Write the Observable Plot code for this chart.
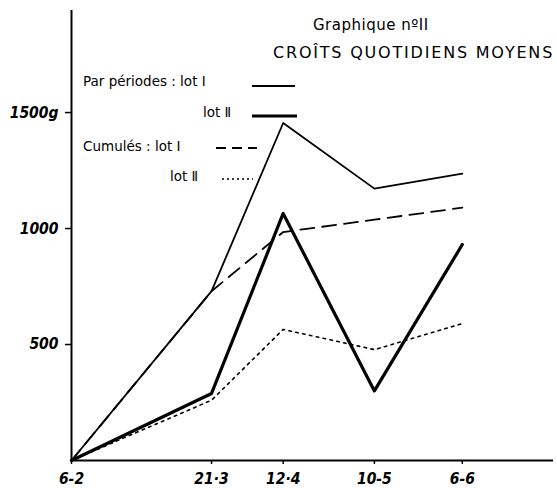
<!DOCTYPE html>
<html>
<head>
<meta charset="utf-8">
<script src="https://cdn.jsdelivr.net/npm/d3@7"></script>
<script src="https://cdn.jsdelivr.net/npm/@observablehq/plot@0.6"></script>
<style>
  html, body { margin: 0; padding: 0; background: #fff; }
  #wrap { position: relative; width: 557px; height: 488px; overflow: hidden; }
  #wrap svg.plot { position: absolute; left: 0; top: 0; }
  #wrap svg.plot text { font-family: "DejaVu Sans Condensed", "DejaVu Sans", sans-serif;
         font-stretch: condensed; font-style: italic; font-weight: bold; }
  .lbl { position: absolute; transform: translateY(-50%); white-space: nowrap;
         font-family: "DejaVu Sans", sans-serif; color: #000; line-height: 1; }
  .sample { position: absolute; }
</style>
</head>
<body>
<div id="wrap"></div>
<script>
// ---- data ----
const dates = ["1962-02-06", "1962-03-21", "1962-04-12", "1962-05-10", "1962-06-06"];
const dateLabels = ["6-2", "21·3", "12·4", "10-5", "6-6"];
const periodLotI  = [0, 730, 1455, 1172, 1237];
const periodLotII = [0, 289, 1065, 300, 931];
const cumulLotI   = [0, 730, 985, 1038, 1090];
const cumulLotII  = [0, 260, 565, 478, 590];
const yTicks = [500, 1000, 1500];
const yTickLabels = ["500", "1000", "1500g"];
const titleLine1 = "Graphique nºII";
const titleLine2 = "CROÎTS  QUOTIDIENS MOYENS";
const legendLabels = ["Par périodes : lot Ⅰ", "lot Ⅱ", "Cumulés : lot Ⅰ", "lot Ⅱ"];

const parse = d3.utcParse("%Y-%m-%d");
const xDates = dates.map(parse);
const xEnd = parse("1962-07-04");

function series(values) {
  return values.map((v, i) => ({date: xDates[i], value: v}));
}

const chart = Plot.plot({
  width: 557,
  height: 488,
  marginLeft: 71,
  marginRight: 4,
  marginTop: 10,
  marginBottom: 28,
  style: {
    fontSize: "15.5px",
    background: "#fff",
    color: "#000"
  },
  x: {type: "utc", domain: [xDates[0], xEnd]},
  y: {domain: [0, 1940]},
  marks: [
    Plot.axisY(yTicks, {
      tickSize: 6, tickPadding: 7, strokeWidth: 1.5,
      fontStyle: "italic", fontWeight: "bold",
      tickFormat: d => yTickLabels[yTicks.indexOf(d)],
      label: null
    }),
    Plot.axisX(xDates, {
      tickSize: 4, tickPadding: 8, strokeWidth: 1.5,
      fontStyle: "italic", fontWeight: "bold",
      tickFormat: d => dateLabels[xDates.findIndex(e => +e === +d)],
      label: null
    }),
    Plot.ruleY([0], {strokeWidth: 2}),
    Plot.ruleX([xDates[0]], {strokeWidth: 2}),
    Plot.line(series(periodLotI),  {x: "date", y: "value", stroke: "#000", strokeWidth: 1.8}),
    Plot.line(series(periodLotII), {x: "date", y: "value", stroke: "#000", strokeWidth: 3.2}),
    Plot.line(series(cumulLotI),   {x: "date", y: "value", stroke: "#000", strokeWidth: 1.8, strokeDasharray: "14,8"}),
    Plot.line(series(cumulLotII),  {x: "date", y: "value", stroke: "#000", strokeWidth: 1.6, strokeDasharray: "2.5,4.5"})
  ]
});
chart.classList.add("plot");
const wrap = document.getElementById("wrap");
wrap.appendChild(chart);

// ---- title and legend overlay ----
function label(text, left, centerY, size, extra) {
  const d = document.createElement("div");
  d.className = "lbl";
  d.textContent = text;
  d.style.left = left + "px";
  d.style.top = centerY + "px";
  d.style.fontSize = size + "px";
  if (extra) Object.assign(d.style, extra);
  wrap.appendChild(d);
}
function sample(x1, x2, y, width, dash) {
  const ns = "http://www.w3.org/2000/svg";
  const s = document.createElementNS(ns, "svg");
  s.setAttribute("class", "sample");
  s.setAttribute("width", x2 - x1);
  s.setAttribute("height", 8);
  s.style.left = x1 + "px";
  s.style.top = (y - 4) + "px";
  const l = document.createElementNS(ns, "line");
  l.setAttribute("x1", 0); l.setAttribute("x2", x2 - x1);
  l.setAttribute("y1", 4); l.setAttribute("y2", 4);
  l.setAttribute("stroke", "#000");
  l.setAttribute("stroke-width", width);
  if (dash) l.setAttribute("stroke-dasharray", dash);
  s.appendChild(l);
  wrap.appendChild(s);
}

label(titleLine1, 313, 25, 15, {letterSpacing: "0.5px"});
label(titleLine2, 273, 53, 16, {letterSpacing: "1.8px"});

label(legendLabels[0], 83, 82, 13.5);
sample(252, 295, 86, 1.8);
label(legendLabels[1], 203, 113, 13.5);
sample(252, 297, 116, 3.2);
label(legendLabels[2], 83, 147, 13.5);
sample(216, 257, 148, 1.8, "10,6");
label(legendLabels[3], 170, 177, 13.5);
sample(222, 253, 179, 1.6, "2,3");
</script>
</body>
</html>
